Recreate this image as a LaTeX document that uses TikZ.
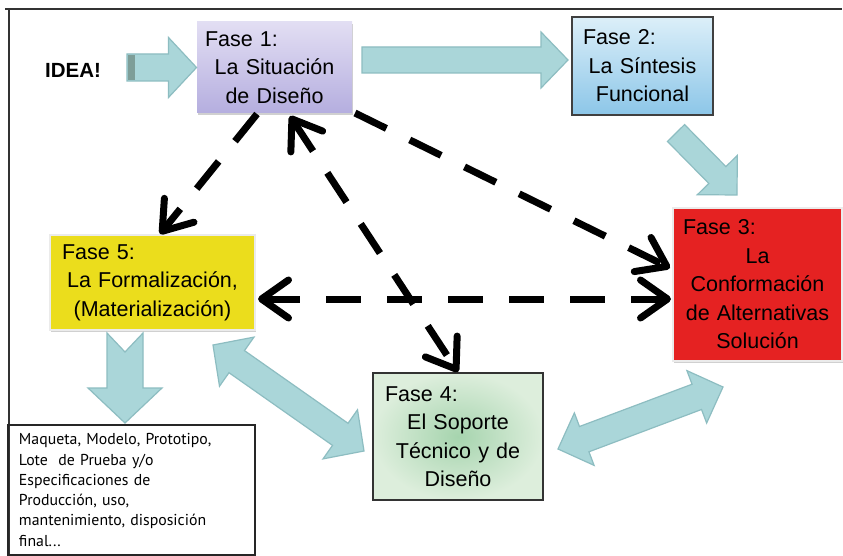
\documentclass[tikz,border=0pt]{standalone}
\usepackage{fontspec}
\setmainfont{Liberation Sans}
\newfontfamily\notefont{PT Sans}
\usetikzlibrary{calc,arrows.meta,shadows}

\definecolor{arrowfill}{HTML}{AAD6D9}
\definecolor{arrowdraw}{HTML}{8DBDC1}
\definecolor{arrowdark}{HTML}{7E9E98}
\definecolor{fonetop}{HTML}{E2DEF3}
\definecolor{fonebot}{HTML}{B5AEDF}
\definecolor{ftwotop}{HTML}{DCEFF9}
\definecolor{ftwobot}{HTML}{8CC6E8}
\definecolor{fthree}{HTML}{E52222}
\definecolor{ffive}{HTML}{EBDD1C}
\definecolor{ffourin}{HTML}{A6D4AE}
\definecolor{ffourout}{HTML}{DDEEDC}

% single fat arrow: tail, tip, shaft half width, head half width, head length
\newcommand\fatsingle[5]{%
  \path[fatarrow] let \p1=($(#2)-(#1)$), \n1={veclen(\x1,\y1)} in
    ($(#1)!#3!90:(#2)$) --
    ($(#1)!{\n1-#5}!(#2)!#3!90:(#2)$) --
    ($(#1)!{\n1-#5}!(#2)!#4!90:(#2)$) --
    (#2) --
    ($(#1)!{\n1-#5}!(#2)!#4!-90:(#2)$) --
    ($(#1)!{\n1-#5}!(#2)!#3!-90:(#2)$) --
    ($(#1)!#3!-90:(#2)$) -- cycle;}
% notched fat arrow: tail, tip, shaft hw, head hw, head length, notch depth
\newcommand\fatnotched[6]{%
  \path[fatarrow] let \p1=($(#2)-(#1)$), \n1={veclen(\x1,\y1)} in
    ($(#1)!#3!90:(#2)$) --
    ($(#1)!{\n1-#5}!(#2)!#3!90:(#2)$) --
    ($(#1)!{\n1-#5}!(#2)!#4!90:(#2)$) --
    (#2) --
    ($(#1)!{\n1-#5}!(#2)!#4!-90:(#2)$) --
    ($(#1)!{\n1-#5}!(#2)!#3!-90:(#2)$) --
    ($(#1)!#3!-90:(#2)$) --
    ($(#1)!#6!(#2)$) -- cycle;}
% double fat arrow: tip A, tip B, shaft hw, head hw, head length
\newcommand\fatdouble[5]{%
  \path[fatarrow] let \p1=($(#2)-(#1)$), \n1={veclen(\x1,\y1)} in
    (#1) --
    ($(#1)!#5!(#2)!#4!90:(#2)$) --
    ($(#1)!#5!(#2)!#3!90:(#2)$) --
    ($(#1)!{\n1-#5}!(#2)!#3!90:(#2)$) --
    ($(#1)!{\n1-#5}!(#2)!#4!90:(#2)$) --
    (#2) --
    ($(#1)!{\n1-#5}!(#2)!#4!-90:(#2)$) --
    ($(#1)!{\n1-#5}!(#2)!#3!-90:(#2)$) --
    ($(#1)!#5!(#2)!#3!-90:(#2)$) --
    ($(#1)!#5!(#2)!#4!-90:(#2)$) -- cycle;}

\begin{document}
\begin{tikzpicture}[x=1pt,y=-1pt,
  fatarrow/.style={fill=arrowfill, draw=arrowdraw, line width=1.2pt, line join=miter},
  phase/.style={inner sep=0pt, align=center, font=\fontsize{21.5}{28.5}\selectfont},
  dasharrow/.style={line width=7pt, dash pattern=on 35pt off 26pt,
    black},
  barb/.style={-{Straight Barb[length=27pt,width=38pt,round]}},
  dbarb/.style={{Straight Barb[length=27pt,width=38pt,round]}-{Straight Barb[length=27pt,width=38pt,round]}},
  softshadow/.style={drop shadow={shadow xshift=0.8pt, shadow yshift=-2pt, opacity=0.3, fill=black!60}}
]
\useasboundingbox (0,0) rectangle (843,556);
\fill[white] (0,0) rectangle (843,556);

% frame
\draw[line width=2pt, black!80] (5,9) -- (842,9);
\draw[line width=2pt, black!80] (8.5,9) -- (8.5,556);

% phase boxes
\node[phase, softshadow, top color=fonetop, bottom color=fonebot,
      minimum width=155pt, minimum height=91pt, text width=139pt]
  (f1) at (274.5,67.5) {\makebox[\linewidth][l]{Fase 1:}\\La Situación\\de Diseño};
\node[phase, top color=ftwotop, bottom color=ftwobot, draw=black!75, line width=1.3pt,
      minimum width=141pt, minimum height=98pt, text width=119pt]
  (f2) at (642.5,66) {\makebox[\linewidth][l]{Fase 2:}\\La Síntesis\\Funcional};
\node[phase, softshadow, fill=fthree, draw=white!92!black, line width=1.5pt,
      minimum width=169pt, minimum height=153pt, text width=149pt]
  (f3) at (757.5,284.5) {\makebox[\linewidth][l]{Fase 3:}\\La\\Conformación\\de Alternativas\\Solución};
\node[phase, softshadow, fill=ffive, draw=white!92!black, line width=1.5pt,
      minimum width=205pt, minimum height=95pt, text width=181pt]
  (f5) at (152.5,282.5) {\makebox[\linewidth][l]{Fase 5:}\\La Formalización,\\(Materialización)};
\node[phase, inner color=ffourin, outer color=ffourout, draw=black!80, line width=1.3pt,
      minimum width=170pt, minimum height=127pt, text width=146pt]
  (f4) at (458,436.5) {\makebox[\linewidth][l]{Fase 4:}\\El Soporte\\Técnico y de\\Diseño};

% output box
\node[draw=black!85, line width=1.5pt, minimum width=247pt, minimum height=130pt,
      inner xsep=11pt, inner ysep=0pt, text width=225pt, align=left,
      font=\notefont\fontsize{15.8}{20.3}\selectfont]
  (out) at (131.5,490) {Maqueta, Modelo, Prototipo,\\Lote \ de Prueba y/o\\Especificaciones de\\Producción, uso,\\mantenimiento, disposición\\final...};

% IDEA
\node[font=\bfseries\fontsize{20.5}{24}\selectfont, inner sep=0pt] (idea) at (73,70) {IDEA!};

% fat arrows
\coordinate (ideaTail) at (127,67.5);
\coordinate (ideaTip) at (196.5,67.5);
\fatsingle{ideaTail}{ideaTip}{13.5pt}{30pt}{28pt}
\fill[arrowdark] (127.6,54.6) rectangle (135,80.4);

\coordinate (aot) at (362,60);
\coordinate (aoh) at (568,60);
\fatsingle{aot}{aoh}{13pt}{28pt}{27pt}

\coordinate (att) at (676,133);
\coordinate (ath) at (737,195);
\fatsingle{att}{ath}{12pt}{28pt}{28pt}

\coordinate (aft) at (125,333);
\coordinate (afh) at (125,423);
\fatnotched{aft}{afh}{18pt}{37pt}{35pt}{19pt}

\coordinate (dfa) at (213,345);
\coordinate (dfb) at (364,451);
\fatdouble{dfa}{dfb}{13.5pt}{30pt}{29pt}

\coordinate (dga) at (558,449);
\coordinate (dgb) at (723,387);
\fatdouble{dga}{dgb}{13.5pt}{28pt}{28pt}

% dashed connectors
\coordinate (d1s) at (257,114);
\coordinate (d1e) at (160,234);
\draw[dasharrow, barb] (d1s) -- (d1e);

\coordinate (d2s) at (290,116);
\coordinate (d2e) at (458,372);
\draw[dasharrow, dbarb] (d2s) -- (d2e);

\coordinate (d3s) at (355,113);
\coordinate (d3e) at (670,268);
\draw[dasharrow, barb] (d3s) -- (d3e);

\coordinate (d4s) at (258,299);
\coordinate (d4e) at (671,299);
\draw[dasharrow, dbarb] (d4s) -- (d4e);
\end{tikzpicture}
\end{document}
